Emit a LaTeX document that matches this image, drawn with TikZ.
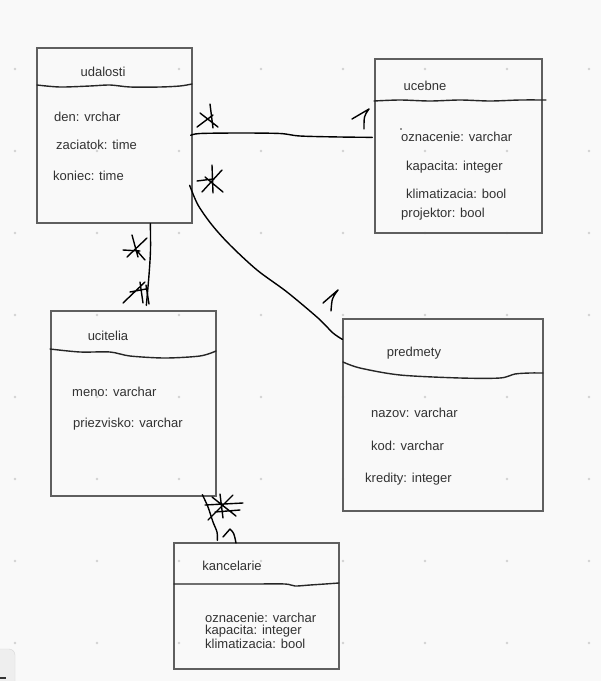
\documentclass[tikz,border=0pt]{standalone}
\usepackage{fontspec}
\setmainfont{Liberation Sans}
\usetikzlibrary{calc}
\definecolor{bg}{RGB}{249,249,249}
\definecolor{dotc}{RGB}{210,210,210}
\definecolor{boxc}{RGB}{95,95,95}
\definecolor{txt}{RGB}{50,50,50}
\definecolor{uifill}{RGB}{238,238,238}
\definecolor{uiline}{RGB}{215,215,215}
\begin{document}
\begin{tikzpicture}[x=1pt,y=-1pt,
 entity/.style={draw=boxc,line width=1.3pt,rectangle,inner sep=0pt},
 attr/.style={anchor=west,inner sep=0pt,text=txt,font=\fontsize{13}{14}\selectfont},
 ttl/.style={anchor=center,inner sep=0pt,text=txt,font=\fontsize{13}{14}\selectfont},
 hand/.style={draw=black,line width=1.4pt,line cap=round,line join=round},
 divider/.style={draw=black!85,line width=1.4pt,line cap=round,line join=round}]
\useasboundingbox[fill=bg] (0,0) rectangle (601,681);
% dot grid
\foreach \x in {15,97,...,589}
  \foreach \y in {69,151,...,643}
    \fill[dotc] (\x,\y) circle (1.4pt);
% bottom-left UI fragment
\draw[fill=uifill,draw=uiline,rounded corners=6pt] (-10,649) rectangle (15,695);
\draw[line width=2pt,black!80] (0,678) -- (6,678);

% entities
\node[entity,minimum width=155pt,minimum height=175pt] (udalosti) at (114.5,135.5) {};
\node[entity,minimum width=167pt,minimum height=174pt] (ucebne) at (458.5,146) {};
\node[entity,minimum width=165pt,minimum height=185pt] (ucitelia) at (133.5,403.5) {};
\node[entity,minimum width=200pt,minimum height=192pt] (predmety) at (443,415) {};
\node[entity,minimum width=165pt,minimum height=126pt] (kancelarie) at (256.5,606) {};

% dividers
\draw[divider] plot[smooth] coordinates {(37,85) (60,87) (90,86) (110,85) (130,87) (160,87) (180,86) (192,84)};
\draw[divider] plot[smooth] coordinates {(374,101) (400,100) (430,101) (460,100) (490,101) (520,100) (546,100)};
\draw[divider] plot[smooth] coordinates {(50,349) (80,352) (110,352) (130,356) (165,358) (200,356) (216,351)};
\draw[divider] plot[smooth] coordinates {(343,362) (360,368) (400,375) (460,378) (500,378) (515,374) (530,373) (543,373)};
\draw[divider] plot[smooth] coordinates {(174,584) (250,584) (285,584) (295,586) (310,585) (325,584) (339,583)};

% titles
\node[ttl] (t1) at (103,72) {udalosti};
\node[ttl] (t2) at (425,86) {ucebne};
\node[ttl] (t3) at (108,336) {ucitelia};
\node[ttl] (t4) at (414,353) {predmety};
\node[ttl] (t5) at (232,566) {kancelarie};

% attributes
\node[attr] (a11) at (54,117) {den: vrchar};
\node[attr] (a12) at (56,145) {zaciatok: time};
\node[attr] (a13) at (53,176) {koniec: time};

\fill[txt] (401,129) circle (0.8pt);
\node[attr] (a21) at (401,137) {oznacenie: varchar};
\node[attr] (a22) at (406,167) {kapacita: integer};
\node[attr] (a23) at (406,194) {klimatizacia: bool};
\node[attr] (a24) at (401,214) {projektor: bool};

\node[attr] (a31) at (72,392) {meno: varchar};
\node[attr] (a32) at (73,424) {priezvisko: varchar};

\node[attr] (a41) at (371,413) {nazov: varchar};
\node[attr] (a42) at (371,446) {kod: varchar};
\node[attr] (a43) at (365,479) {kredity: integer};

\node[attr] (a51) at (205,618) {oznacenie: varchar};
\node[attr] (a52) at (205,631) {kapacita: integer};
\node[attr] (a53) at (205,644) {klimatizacia: bool};

% connector end points
\coordinate (c1s) at ($(udalosti.north east)+(-2,88)$);
\coordinate (c1e) at ($(ucebne.north west)+(-2,79)$);
\coordinate (c2s) at ($(udalosti.north east)+(-3,138)$);
\coordinate (c2e) at ($(predmety.north west)+(0,21)$);
\coordinate (c3s) at ($(udalosti.south west)+(114,0)$);
\coordinate (c3e) at ($(ucitelia.north west)+(96,-5)$);
\coordinate (c4s) at ($(ucitelia.south west)+(152,-2)$);
\coordinate (c4e) at ($(kancelarie.north west)+(44,-2)$);

% connectors
\draw[hand] plot[smooth] coordinates {(c1s) (200,133.5) (240,133) (280,133.5) (300,136) (340,137) (c1e)};
\draw[hand] plot[smooth] coordinates {(c2s) (198,205) (212,225) (230,245) (257,270) (287,292) (318,318) (333,333) (c2e)};
\draw[hand] plot[smooth] coordinates {(c3s) (150.5,250) (149,275) (c3e)};
\draw[hand] plot[smooth] coordinates {(c4s) (208,507) (213,522) (217,532) (c4e)};

% multiplicity marks: stars
\draw[hand] (210,104) -- (213,128) (197,127) -- (213,115) (200,113) -- (218,127);
\draw[hand] (212,165) -- (213,193) (197,181) -- (213,179) (202,192) -- (222,170) (205,177) -- (223,192);
\draw[hand] (132,235) -- (138,257) (123,250) -- (140,251) (127,257) -- (147,238) (138,252) -- (145,260);
\draw[hand] (123,303) -- (145,282) (130,292) -- (146,289) (140,282) -- (143,303) (146,285) -- (149,304);
\draw[hand] (208,520) -- (233,495) (212,497) -- (236,516) (205,505) -- (243,503) (220,494) -- (223,518) (215,512) -- (240,510);

% multiplicity marks: ones
\draw[hand] (352,119) -- (369,109) .. controls (364,116) .. (364,129);
\draw[hand] (323,303) -- (338,290) .. controls (332,298) .. (331,311);
\draw[hand] (223,537) -- (230,529) .. controls (234,533) .. (236,543);
\end{tikzpicture}
\end{document}
